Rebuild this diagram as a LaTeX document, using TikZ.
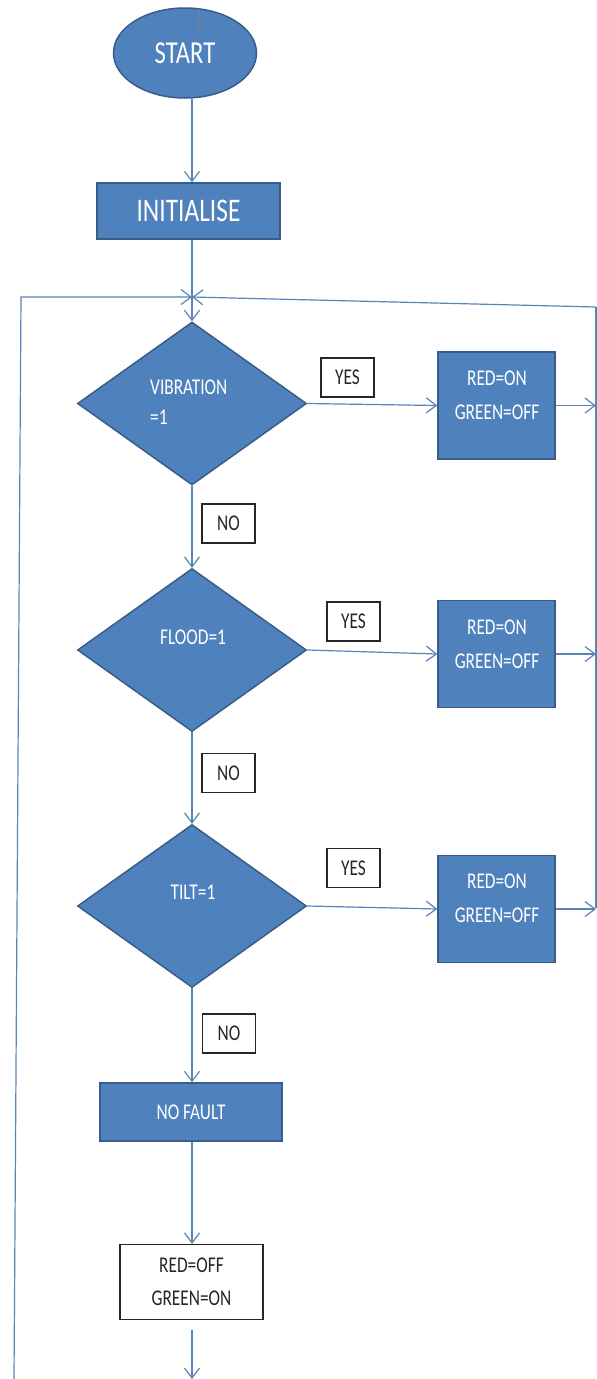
\documentclass[tikz,border=0pt]{standalone}
\usepackage{fontspec}
\setmainfont{Carlito}[FakeStretch=0.77]
\usetikzlibrary{shapes.geometric,arrows.meta}
\definecolor{fillblue}{HTML}{4F81BD}
\definecolor{edgeblue}{HTML}{385D8A}
\definecolor{linkblue}{HTML}{5A84B5}
\begin{document}
\begin{tikzpicture}[x=1pt,y=-1pt,
  bluebox/.style={draw=edgeblue, fill=fillblue, line width=1.5pt, inner sep=0pt, text=white},
  whitebox/.style={draw=black!85, fill=white, line width=1.2pt, inner sep=0pt, text=black!85},
  bigtxt/.style={font=\fontsize{33}{40}\selectfont},
  bodytxt/.style={font=\fontsize{22.5}{34}\selectfont},
  dia/.style={bluebox, diamond, minimum width=229pt, minimum height=163pt},
  actbox/.style={bluebox, minimum width=117pt, minimum height=107pt},
  yesno/.style={whitebox, minimum width=53pt, minimum height=39pt, bodytxt},
  wlabel/.style={text=white, inner sep=0pt, bodytxt, align=center},
  link/.style={draw=linkblue, line width=1.2pt},
  arr/.style={link, -{Straight Barb[length=10pt,width=15pt]}},
]
\useasboundingbox (0,0) rectangle (597,1379);
\fill[white] (0,0) rectangle (597,1379);

% shapes
\node[bluebox, ellipse, minimum width=143pt, minimum height=90pt, font=\fontsize{32}{38}\selectfont] (start) at (185,53) {START};
\node[bluebox, minimum width=183pt, minimum height=56pt, bigtxt] (init) at (188.5,211) {INITIALISE};

\node[dia] (d1) at (192,403.5) {};
\node[wlabel, align=left, font=\fontsize{22.5}{30}\selectfont, anchor=west] (d1t) at (150,402) {VIBRATION\\=1};
\node[dia] (d2) at (192,650) {};
\node[wlabel] (d2t) at (193,637) {FLOOD=1};
\node[dia] (d3) at (192,906) {};
\node[wlabel] (d3t) at (193,892) {TILT=1};

\node[actbox] (r1) at (496.5,405.5) {};
\node[wlabel] (r1t) at (497,395) {RED=ON\\GREEN=OFF};
\node[actbox] (r2) at (496.5,654) {};
\node[wlabel] (r2t) at (497,644) {RED=ON\\GREEN=OFF};
\node[actbox] (r3) at (496.5,909) {};
\node[wlabel] (r3t) at (497,898.5) {RED=ON\\GREEN=OFF};

\node[yesno] (y1) at (347.5,377.5) {YES};
\node[yesno] (y2) at (353.5,621.5) {YES};
\node[yesno] (y3) at (353.5,868) {YES};
\node[yesno] (n1) at (228.5,523.5) {NO};
\node[yesno] (n2) at (228.5,773) {NO};
\node[yesno] (n3) at (229,1033.5) {NO};

\node[bluebox, minimum width=182pt, minimum height=58pt, bodytxt] (nf) at (191,1112) {NO FAULT};
\node[whitebox, minimum width=143pt, minimum height=75pt, bodytxt, font=\fontsize{22.5}{33}\selectfont, align=center] (fin) at (191.5,1282) {RED=OFF\\GREEN=ON};

% small stray line at the top of START
\draw[gray, line width=1pt] (198,8) -- (198,33);

% loop coordinates
\coordinate (meet) at (192,297);
\coordinate (lb) at (14,1379);
\coordinate (lt) at (21,297);
\coordinate (rb) at (596,908);
\coordinate (rt) at (596,307);
\coordinate (o1) at (192,1330);
\coordinate (o2) at (192,1379);

% connectors
\draw[arr] (start.south -| d1.north) -- (init.north -| d1.north);
\draw[arr] (init.south -| d1.north) -- (d1.north);
\draw[arr] (lb) -- (lt) -- (meet);
\draw[link] (rb) -- (rt);
\draw[arr] (rt) -- (meet);

\draw[arr] (d1.east) -- (r1.west);
\draw[arr] (d2.east) -- (r2.west);
\draw[arr] (d3.east) -- (r3.west);
\draw[arr] (r1.east) -- (r1.east -| rt);
\draw[arr] (r2.east) -- (r2.east -| rt);
\draw[arr] (r3.east) -- (r3.east -| rt);

\draw[arr] (d1.south) -- (d2.north);
\draw[arr] (d2.south) -- (d3.north);
\draw[arr] (d3.south) -- (nf.north -| d3.south);
\draw[arr] (nf.south -| d3.south) -- (fin.north -| d3.south);
\draw[arr] (o1) -- (o2);
\end{tikzpicture}
\end{document}
